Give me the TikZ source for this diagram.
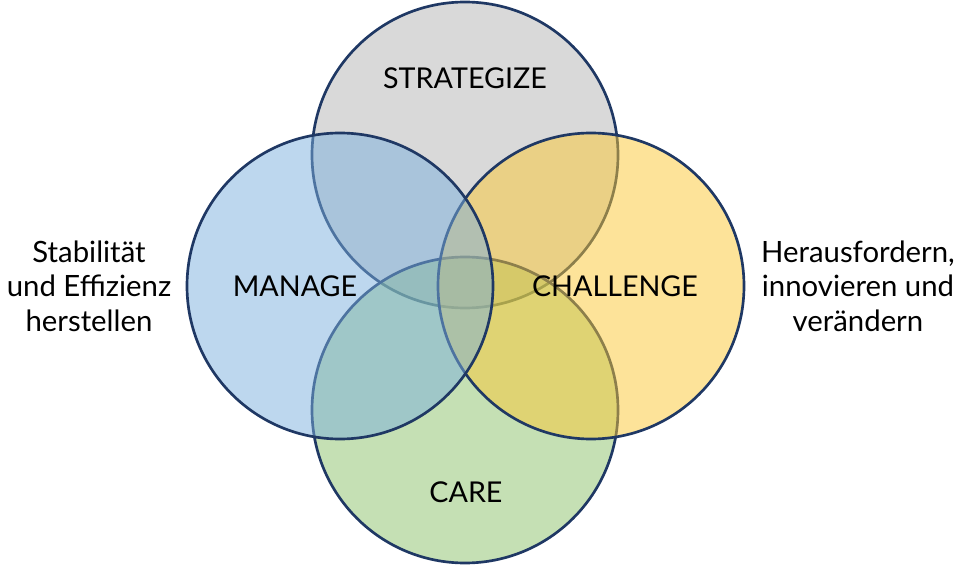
\documentclass[tikz,border=0pt]{standalone}
\usepackage{fontspec}
\setmainfont{Lato}
\definecolor{rim}{HTML}{1F3864}
\definecolor{stratfill}{RGB}{179,179,179}
\definecolor{carefill}{RGB}{139,193,105}
\definecolor{challfill}{RGB}{251,199,51}
\definecolor{manfill}{RGB}{123,175,221}
\begin{document}
\begin{tikzpicture}[x=0.75pt, y=0.75pt,
    ring/.style={draw=rim, line width=2pt, fill opacity=0.5},
    title/.style={font=\fontsize{21.5}{26}\selectfont, inner sep=0pt},
    side/.style={font=\fontsize{22}{26}\selectfont, align=center, inner sep=0pt}]
    \useasboundingbox (0,0) rectangle (957,565);

    % Draw the four circles
    \draw[ring, fill=stratfill] (465,410) circle (153);
    \draw[ring, fill=carefill] (465,155) circle (153);
    \draw[ring, fill=challfill] (591,279) circle (153);
    \draw[ring, fill=manfill] (340,279) circle (153);

    % Circle titles
    \node[title] (strategize) at (465,487) {STRATEGIZE};
    \node[title] (manage) at (295,279) {MANAGE};
    \node[title] (challenge) at (615,279) {CHALLENGE};
    \node[title] (care) at (466,73) {CARE};

    % Side notes
    \node[side] (stability) at (89,279) {Stabilität\\und Effizienz\\herstellen};
    \node[side] (change) at (858,279) {Herausfordern,\\innovieren und\\verändern};
\end{tikzpicture}
\end{document}
